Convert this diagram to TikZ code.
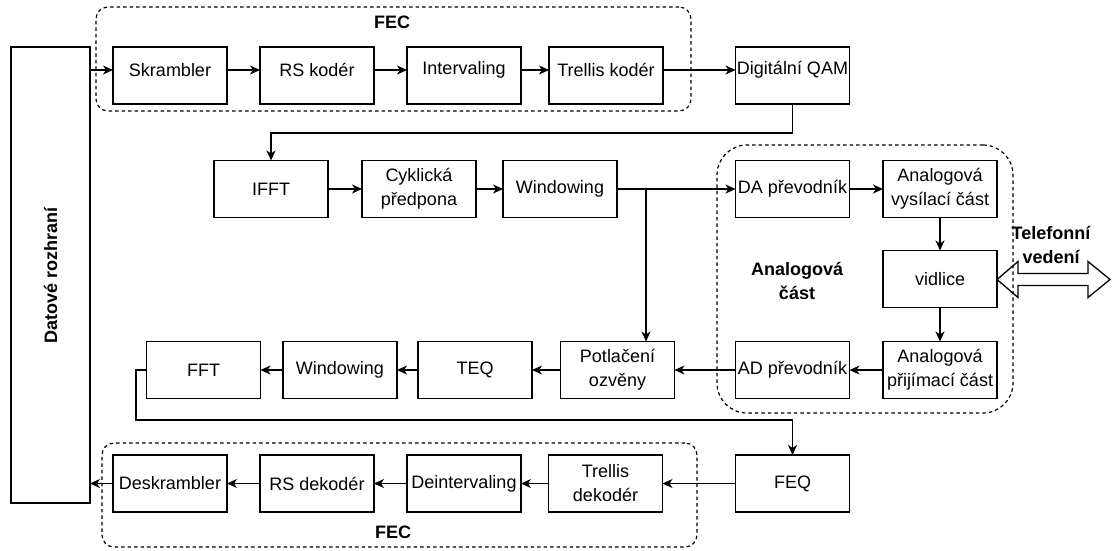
\documentclass[tikz,border=0pt]{standalone}
\usepackage{fontspec}
\setmainfont{Liberation Sans}
\usetikzlibrary{arrows.meta}
\newcommand\liftxt[1]{\raisebox{5.5pt}[\height][\depth]{#1}}
\begin{document}
\begin{tikzpicture}[x=1pt,y=-1pt,
  blk/.style={draw, line width=1.3pt, minimum width=114pt, minimum height=57pt,
    inner sep=0pt, outer sep=0pt, align=center, font=\fontsize{18}{24}\selectfont},
  conn/.style={line width=1.3pt, -{Stealth[length=10pt,width=9pt,inset=3pt]}},
  grp/.style={draw, line width=1.2pt, dash pattern=on 3.5pt off 3pt, rounded corners=12pt,
    inner sep=0pt, outer sep=0pt},
  lbl/.style={font=\bfseries\fontsize{18}{24}\selectfont, align=center, inner sep=0pt}
]
\useasboundingbox (0,0) rectangle (1118,550);

% group frames
\node[grp, minimum width=595pt, minimum height=104pt] (fec1) at (393.5,59) {};
\node[grp, minimum width=595pt, minimum height=104pt] (fec2) at (399.5,495) {};
\node[grp, rounded corners=30pt, minimum width=296pt, minimum height=268pt] (ana) at (865,279) {};
\node[lbl] (fec1l) at (392,22) {FEC};
\node[lbl] (fec2l) at (393,532) {FEC};
\node[lbl] (anal) at (797,281) {Analogová\\část};
\node[lbl] (tell) at (1051,245) {Telefonní\\vedení};

% data interface
\node[blk, minimum width=79pt, minimum height=456pt] (dat) at (50.5,275) {};
\node[lbl, rotate=90] (datl) at (dat.center) {Datové rozhraní};

% top row
\node[blk] (skr) at (170,75.5) {\liftxt{Skrambler}};
\node[blk] (rsk) at (317,75.5) {\liftxt{RS kodér}};
\node[blk] (int) at (464,75.5) {\liftxt{Intervaling}};
\node[blk] (trk) at (606,75.5) {\liftxt{Trellis kodér}};
\node[blk] (qam) at (792.5,75.5) {\liftxt{Digitální QAM}};

% second row
\node[blk] (ifft) at (271,189) {IFFT};
\node[blk] (cyk) at (419,189) {Cyklická\\předpona};
\node[blk] (win1) at (560,189) {Windowing};
\node[blk] (da) at (792.5,189) {DA převodník};
\node[blk] (avys) at (940,189) {Analogová\\vysílací část};
\node[blk] (vid) at (940,279) {vidlice};

% third row
\node[blk] (fft) at (203.5,370) {FFT};
\node[blk] (win2) at (340,370) {Windowing};
\node[blk] (teq) at (475,370) {TEQ};
\node[blk] (pot) at (617.5,370) {Potlačení\\ozvěny};
\node[blk] (ad) at (792.5,370) {AD převodník};
\node[blk] (aprij) at (940,370) {Analogová\\přijímací část};

% bottom row
\node[blk] (desk) at (170,483.5) {Deskrambler};
\node[blk] (rsd) at (317,483.5) {RS dekodér};
\node[blk] (dint) at (464,483.5) {Deintervaling};
\node[blk] (trd) at (605.5,483.5) {Trellis\\dekodér};
\node[blk] (feq) at (792.5,483.5) {FEQ};

% telephone line double arrow
\draw[line width=1.3pt, line join=miter] (997,279.5) -- (1018,261.5) -- (1018,273.5) -- (1088,273.5)
  -- (1088,261.5) -- (1110,279.5) -- (1088,297.5) -- (1088,285.5) -- (1018,285.5)
  -- (1018,297.5) -- cycle;

% connectors
\coordinate (q1) at (792.5,133);
\coordinate (j) at (646,189);
\coordinate (c1) at (136,420);

\draw[conn] (dat.east |- 0,70) -- ([yshift=5.5pt]skr.west);
\draw[conn] ([yshift=5.5pt]skr.east) -- ([yshift=5.5pt]rsk.west);
\draw[conn] ([yshift=5.5pt]rsk.east) -- ([yshift=5.5pt]int.west);
\draw[conn] ([yshift=5.5pt]int.east) -- ([yshift=5.5pt]trk.west);
\draw[conn] ([yshift=5.5pt]trk.east) -- ([yshift=5.5pt]qam.west);
\draw[conn] (qam.south) -- (q1) -| (ifft.north);
\draw[conn] (ifft) -- (cyk);
\draw[conn] (cyk) -- (win1);
\draw[conn] (win1) -- (da);
\draw[conn] (j) -- (j |- pot.north);
\draw[conn] (da) -- (avys);
\draw[conn] (avys) -- (vid);
\draw[conn] (vid) -- (aprij);
\draw[conn] (aprij) -- (ad);
\draw[conn] (ad) -- (pot);
\draw[conn] (pot) -- (teq);
\draw[conn] (teq) -- (win2);
\draw[conn] (win2) -- (fft);
\draw[conn] (fft.west) -| (c1) -| (feq.north);
\draw[conn] (feq) -- (trd);
\draw[conn] (trd) -- (dint);
\draw[conn] (dint) -- (rsd);
\draw[conn] (rsd) -- (desk);
\draw[conn] (desk.west) -- (desk.west -| dat.east);
\end{tikzpicture}
\end{document}
